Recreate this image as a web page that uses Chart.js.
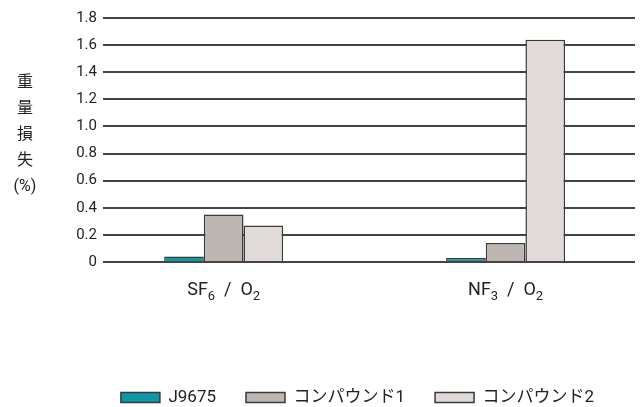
<!DOCTYPE html>
<html>
<head>
<meta charset="utf-8">
<script src="https://cdn.jsdelivr.net/npm/chart.js@4"></script>
<style>
  body { margin: 0; background: #fff; }
  #wrap { position: relative; width: 643px; height: 407px; }
  #ytitle {
    position: absolute; left: 12px; top: 67px; width: 26px;
    font-family: 'Noto Sans CJK JP', sans-serif; font-size: 16px;
    line-height: 26px; text-align: center; color: #222;
  }
  #ytitle .pct { font-family: Roboto, sans-serif; font-size: 16px; line-height: 20px; }
</style>
</head>
<body>
<div id="wrap">
  <canvas id="chart" width="643" height="407"></canvas>
  <div id="ytitle">重<br>量<br>損<br>失<br><span class="pct">(%)</span></div>
</div>
<script>
// digits after letters are shown as subscripts
const categories = ["SF6 / O2", "NF3 / O2"];
const seriesNames = ["J9675", "コンパウンド1", "コンパウンド2"];
const j9675 = [0.04, 0.03];
const compound1 = [0.35, 0.14];
const compound2 = [0.27, 1.64];
const yTicks = [0, 0.2, 0.4, 0.6, 0.8, 1.0, 1.2, 1.4, 1.6, 1.8];

const fontFamily = "Roboto, 'Noto Sans CJK JP', sans-serif";
const fills = ["#0f98a6", "#bdb6b2", "#e0dbd9"];

// x labels with real subscripts
const formulaLabels = {
  id: "formulaLabels",
  afterDraw(chart) {
    const ctx = chart.ctx;
    const x = chart.scales.x;
    const y = x.top + 28;
    ctx.save();
    ctx.fillStyle = "#222";
    ctx.textBaseline = "middle";
    categories.forEach((lab, i) => {
      const parts = [];
      lab.replace(/ \/ /g, "  /  ").split(/(\d+)/).forEach((p, k) => {
        if (p) parts.push({ t: p, sub: k % 2 === 1 });
      });
      const fontOf = p => (p.sub ? "13px " : "18px ") + fontFamily;
      let w = 0;
      parts.forEach(p => { ctx.font = fontOf(p); p.w = ctx.measureText(p.t).width; w += p.w; });
      let cx = x.getPixelForValue(i) - w / 2;
      parts.forEach(p => {
        ctx.font = fontOf(p);
        ctx.fillText(p.t, cx, p.sub ? y + 7 : y);
        cx += p.w;
      });
    });
    ctx.restore();
  }
};

// push the legend row down to the foot of the canvas, a bit right of centre
const legendShift = {
  id: "legendShift",
  afterLayout(chart) {
    const lg = chart.legend;
    const h = lg.bottom - lg.top;
    lg.top = 359;
    lg.bottom = lg.top + h;
    lg.left += 40;
    lg.right += 40;
  }
};

new Chart(document.getElementById("chart"), {
  type: "bar",
  data: {
    labels: categories,
    datasets: [j9675, compound1, compound2].map((vals, i) => ({
      label: seriesNames[i],
      data: vals,
      backgroundColor: fills[i],
      borderColor: "#3a3a3a",
      borderWidth: 1.5,
      borderSkipped: "bottom",
      barPercentage: 1,
      categoryPercentage: 0.422
    }))
  },
  plugins: [formulaLabels, legendShift],
  options: {
    responsive: false,
    animation: false,
    layout: { padding: { top: 18, right: 8, left: 0, bottom: 0 } },
    plugins: {
      tooltip: { enabled: false },
      legend: {
        position: "bottom",
        labels: {
          font: { family: fontFamily, size: 17 },
          color: "#222",
          boxWidth: 39,
          boxHeight: 10,
          padding: 30
        }
      }
    },
    scales: {
      x: {
        grid: { display: false },
        border: { display: false },
        ticks: { display: false },
        afterFit: s => { s.height = 88; },
        // groups sit a little left of the even split
        afterUpdate: s => { s._startValue = -0.428; s._valueRange = 1.887; }
      },
      y: {
        min: 0,
        max: 1.8,
        afterBuildTicks: s => { s.ticks = yTicks.map(v => ({ value: v })); },
        afterFit: s => { s.width = 103; },
        grid: { color: "#444", lineWidth: 2, drawTicks: false },
        border: { display: false },
        ticks: {
          font: { family: fontFamily, size: 15 },
          color: "#222",
          padding: 6,
          callback: v => v === 0 ? "0" : v.toFixed(1)
        }
      }
    }
  }
});
</script>
</body>
</html>
